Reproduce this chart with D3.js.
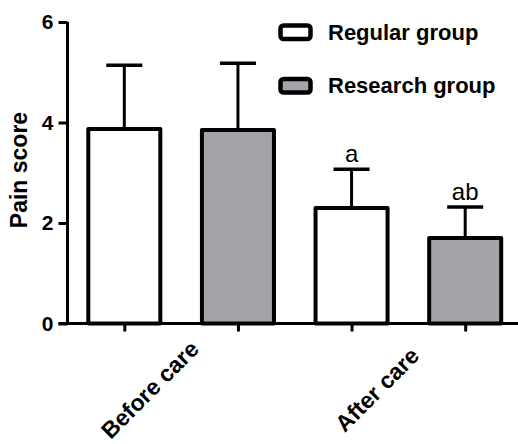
<!DOCTYPE html>
<html>
<head>
<meta charset="utf-8">
<script src="https://cdn.jsdelivr.net/npm/d3@7"></script>
<style>
  html, body { margin: 0; padding: 0; background: #fff; }
  svg { display: block; font-family: "Liberation Sans", Arial, sans-serif; }
</style>
</head>
<body>
<svg id="chart" width="518" height="444"></svg>
<script>
const categories = ["Before care", "After care"];
const groups = ["Regular group", "Research group"];
const regularMean = [3.87, 2.30];
const regularSD = [1.27, 0.77];
const researchMean = [3.85, 1.70];
const researchSD = [1.33, 0.62];
const annotations = [["", ""], ["a", "ab"]];
const yTicks = [0, 2, 4, 6];
const colors = ["#ffffff", "#a4a3a9"];

const data = [];
categories.forEach((c, i) => {
  data.push({cat: c, grp: groups[0], mean: regularMean[i], sd: regularSD[i], note: annotations[i][0]});
  data.push({cat: c, grp: groups[1], mean: researchMean[i], sd: researchSD[i], note: annotations[i][1]});
});

const svg = d3.select("#chart");
const x0 = d3.scaleBand().domain(categories).range([67.5, 522]).padding(0);
const x1 = d3.scaleBand().domain(groups).range([0, x0.bandwidth()]).paddingInner(0.366).paddingOuter(0.183);
const y = d3.scaleLinear().domain([0, 6]).range([323.5, 22]);
const color = d3.scaleOrdinal().domain(groups).range(colors);

// bars
const g = svg.append("g");
g.selectAll("rect.bar").data(data).join("rect")
  .attr("class", "bar")
  .attr("x", d => x0(d.cat) + x1(d.grp))
  .attr("y", d => y(d.mean))
  .attr("width", x1.bandwidth())
  .attr("height", d => y(0) - y(d.mean))
  .attr("fill", d => color(d.grp))
  .attr("stroke", "#000")
  .attr("stroke-width", 4)
  .attr("stroke-linejoin", "round");

// error bars
const cx = d => x0(d.cat) + x1(d.grp) + x1.bandwidth() / 2;
g.selectAll("line.stem").data(data).join("line")
  .attr("x1", cx).attr("x2", cx)
  .attr("y1", d => y(d.mean)).attr("y2", d => y(d.mean + d.sd))
  .attr("stroke", "#000").attr("stroke-width", 3);
g.selectAll("line.cap").data(data).join("line")
  .attr("x1", d => cx(d) - x1.bandwidth() / 4).attr("x2", d => cx(d) + x1.bandwidth() / 4)
  .attr("y1", d => y(d.mean + d.sd)).attr("y2", d => y(d.mean + d.sd))
  .attr("stroke", "#000").attr("stroke-width", 3.5);

// annotations
g.selectAll("text.note").data(data.filter(d => d.note)).join("text")
  .attr("x", cx)
  .attr("y", d => y(d.mean + d.sd) - 7)
  .attr("text-anchor", "middle")
  .attr("font-size", 24)
  .attr("fill", "#000")
  .text(d => d.note);

// y axis
const yAxis = svg.append("g").attr("transform", "translate(67.5,0)")
  .call(d3.axisLeft(y).tickValues(yTicks).tickSize(9).tickPadding(5).tickFormat(d3.format("d")));
yAxis.select(".domain").attr("stroke-width", 3).attr("d", `M0,${y(6)}V${y(0)}`);
yAxis.selectAll(".tick line").attr("stroke-width", 3);
yAxis.selectAll(".tick text").attr("font-size", 21).attr("font-weight", "bold").attr("fill", "#000")
  .attr("font-family", "Liberation Sans, Arial, sans-serif");

// x axis
const xTickVals = [];
data.forEach(d => xTickVals.push(cx(d)));
const xLin = d3.scaleLinear().domain([67.5, 522]).range([67.5, 522]);
const xAxis = svg.append("g").attr("transform", `translate(0,${y(0)})`)
  .call(d3.axisBottom(xLin).tickValues(xTickVals).tickSize(8).tickFormat(""));
xAxis.select(".domain").attr("stroke-width", 3).attr("d", "M58.5,0H522");
xAxis.selectAll(".tick line").attr("stroke-width", 3);

// category labels
svg.selectAll("text.cat").data(categories).join("text")
  .attr("class", "cat")
  .attr("transform", c => `translate(${x0(c) + x0.bandwidth() / 2 - 30},391) rotate(-45)`)
  .attr("text-anchor", "middle")
  .attr("dominant-baseline", "middle")
  .attr("font-size", 23)
  .attr("font-weight", "bold")
  .text(c => c);

// y label
svg.append("text")
  .attr("transform", "translate(27,170) rotate(-90)")
  .attr("text-anchor", "middle")
  .attr("font-size", 23)
  .attr("font-weight", "bold")
  .text("Pain score");

// legend
const legend = svg.append("g");
const legY = [25.5, 79];
groups.forEach((gname, i) => {
  legend.append("rect")
    .attr("x", 280.5).attr("y", legY[i]).attr("width", 30).attr("height", 13.5)
    .attr("rx", 3)
    .attr("fill", color(gname)).attr("stroke", "#000").attr("stroke-width", 4.5);
  legend.append("text")
    .attr("x", 328).attr("y", legY[i] + 14)
    .attr("font-size", 22).attr("font-weight", "bold")
    .text(gname);
});
</script>
</body>
</html>
